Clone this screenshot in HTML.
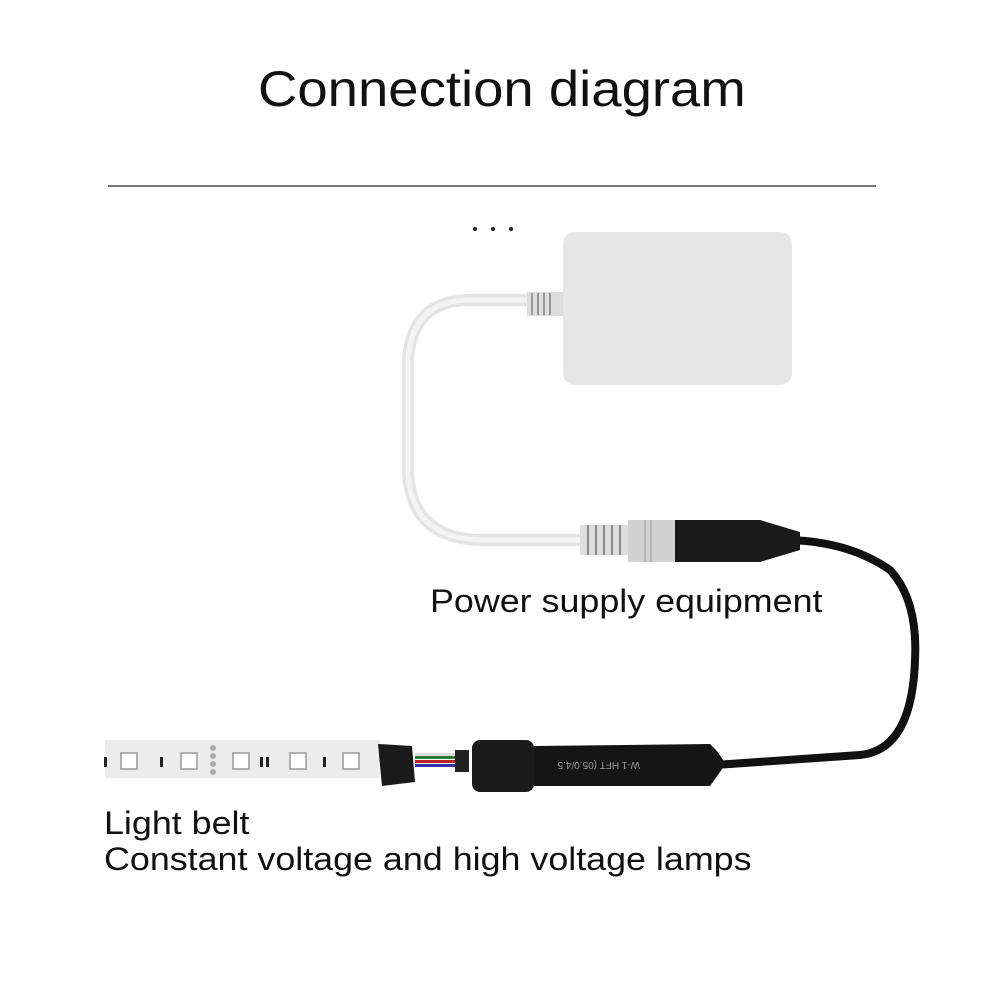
<!DOCTYPE html>
<html><head><style>
body{margin:0;width:1002px;height:1002px;background:#fff;overflow:hidden;position:relative;font-family:"Liberation Sans","DejaVu Sans",sans-serif;}
.t{position:absolute;color:#111;white-space:nowrap;transform-origin:0 0;}
</style></head><body>
<div class="t" style="left:258px;top:60px;font-size:50px;transform:scaleX(1.09);">Connection diagram</div>
<div style="position:absolute;left:108px;top:185px;width:768px;height:2px;background:#777"></div>
<svg width="1002" height="1002" style="position:absolute;left:0;top:0">
<circle cx="475" cy="229" r="2" fill="#222"/><circle cx="493" cy="229" r="2" fill="#222"/><circle cx="511" cy="229" r="2" fill="#222"/>
<path d="M540 300 L470 300 Q412 300 408 360 L408 470 Q410 538 480 540 L585 540" fill="none" stroke="#e4e4e4" stroke-width="12"/>
<path d="M540 300 L470 300 Q412 300 408 360 L408 470 Q410 538 480 540 L585 540" fill="none" stroke="#f4f4f4" stroke-width="5"/>
<rect x="527" y="292" width="36" height="24" fill="#ddd"/>
<g stroke="#999" stroke-width="2"><line x1="532" y1="293" x2="532" y2="315"/><line x1="538" y1="293" x2="538" y2="315"/><line x1="544" y1="293" x2="544" y2="315"/><line x1="550" y1="293" x2="550" y2="315"/></g>
<rect x="563" y="232" width="229" height="153" rx="12" fill="#e6e6e6"/>
<path d="M790 540 Q850 542 890 570 Q918 600 915 660 Q912 750 860 755 L715 765" fill="none" stroke="#111" stroke-width="8"/>
<rect x="580" y="525" width="50" height="30" fill="#ddd"/>
<g stroke="#888" stroke-width="2"><line x1="588" y1="525" x2="588" y2="555"/><line x1="596" y1="525" x2="596" y2="555"/><line x1="604" y1="525" x2="604" y2="555"/><line x1="612" y1="525" x2="612" y2="555"/><line x1="620" y1="525" x2="620" y2="555"/></g>
<rect x="628" y="520" width="50" height="42" fill="#d2d2d2"/>
<line x1="645" y1="520" x2="645" y2="562" stroke="#999"/><line x1="651" y1="520" x2="651" y2="562" stroke="#999"/>
<path d="M675 520 L760 520 L800 532 L800 550 L760 562 L675 562 Z" fill="#1a1a1a"/>
<path d="M105 740 L380 740 L380 778 L105 778 Z" fill="#ececec"/>
<g fill="#fff" stroke="#999" stroke-width="1.5">
<rect x="121" y="753" width="16" height="16"/><rect x="181" y="753" width="16" height="16"/><rect x="233" y="753" width="16" height="16"/><rect x="290" y="753" width="16" height="16"/><rect x="343" y="753" width="16" height="16"/></g>
<g fill="#222"><rect x="104" y="757" width="3" height="10"/><rect x="160" y="757" width="3" height="10"/><rect x="260" y="757" width="3" height="10"/><rect x="266" y="757" width="3" height="10"/><rect x="323" y="757" width="3" height="10"/></g>
<g fill="#aaa"><circle cx="213" cy="748" r="3"/><circle cx="213" cy="756" r="3"/><circle cx="213" cy="764" r="3"/><circle cx="213" cy="772" r="3"/></g>
<path d="M378 744 L412 746 L415 782 L382 786 Z" fill="#1a1a1a"/>
<rect x="415" y="753" width="40" height="3" fill="#ddd"/><rect x="415" y="756" width="40" height="3" fill="#2a7a3a"/><rect x="415" y="760" width="40" height="3" fill="#b22"/><rect x="415" y="764" width="40" height="3" fill="#33a"/>
<rect x="455" y="750" width="14" height="22" fill="#222"/>
<rect x="472" y="740" width="62" height="52" rx="8" fill="#1a1a1a"/>
<path d="M534 746 L710 744 Q722 755 725 765 L710 786 L534 786 Z" fill="#151515"/>
<text x="640" y="770" font-size="10" fill="#999" transform="rotate(180 640 766)">W-1 HFT (05.0/4.5</text>
</svg>
<div class="t" style="left:430px;top:583px;font-size:32px;transform:scaleX(1.12);">Power supply equipment</div>
<div class="t" style="left:104px;top:805px;font-size:32px;line-height:36px;transform:scaleX(1.12);">Light belt<br>Constant voltage and high voltage lamps</div>
</body></html>
